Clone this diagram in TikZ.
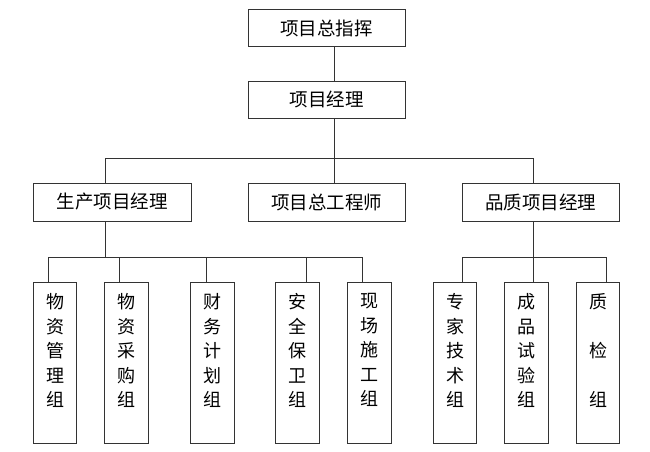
\documentclass[tikz,border=0pt]{standalone}
\usepackage{fontspec}
\newfontfamily\cjk{Noto Sans CJK SC}
\begin{document}
\begin{tikzpicture}[x=1pt,y=-1pt,
  box/.style={draw=black!80,line width=1pt,inner sep=0pt,font=\cjk\fontsize{18.5}{20}\selectfont},
  hbox/.style={box,minimum width=157pt,minimum height=37pt},
  vbox/.style={box,minimum width=43.5pt,minimum height=161pt},
  vtext/.style={inner sep=0pt,anchor=north,align=center,font=\cjk\fontsize{18}{24.5}\selectfont},
  conn/.style={draw=black!80,line width=1pt}]
\path[use as bounding box,fill=white] (0,0) rectangle (650,451);
% top levels
\node[hbox] (top) at (326.5,28) {项目总指挥};
\node[hbox] (pm) at (326.5,99.5) {项目经理};
\node[hbox,minimum width=158pt,minimum height=38pt] (prod) at (112,202) {生产项目经理};
\node[hbox,minimum height=38pt] (eng) at (326.5,202) {项目总工程师};
\node[hbox,minimum height=38pt] (qual) at (540.5,202) {品质项目经理};
% bottom boxes
\node[vbox] (b1) at (55,362.5) {};
\node[vbox] (b2) at (126.5,362.5) {};
\node[vbox] (b3) at (212.5,362.5) {};
\node[vbox] (b4) at (297.5,362.5) {};
\node[vbox] (b5) at (369.5,362.5) {};
\node[vbox] (b6) at (455,362.5) {};
\node[vbox] (b7) at (526.5,362.5) {};
\node[vbox] (b8) at (598,362.5) {};
\node[vtext] (t1) at ([yshift=-12pt]b1.north) {物\\资\\管\\理\\组};
\node[vtext] (t2) at ([yshift=-12pt]b2.north) {物\\资\\采\\购\\组};
\node[vtext] (t3) at ([yshift=-12pt]b3.north) {财\\务\\计\\划\\组};
\node[vtext] (t4) at ([yshift=-12pt]b4.north) {安\\全\\保\\卫\\组};
\node[vtext] (t5) at ([yshift=-12pt]b5.north) {现\\场\\施\\工\\组};
\node[vtext] (t6) at ([yshift=-12pt]b6.north) {专\\家\\技\\术\\组};
\node[vtext] (t7) at ([yshift=-12pt]b7.north) {成\\品\\试\\验\\组};
\node[vtext] (t8) at ([yshift=-12pt]b8.north) {质\\ \\检\\ \\组};
% junction coordinates
\coordinate (bus1) at (0,158);
\coordinate (bus2) at (0,257);
\coordinate (pmx) at ([xshift=7.5pt]pm.south);
\coordinate (prx) at ([xshift=-7pt]prod.south);
\coordinate (qux) at ([xshift=-7.5pt]qual.south);
\coordinate (s1) at ([xshift=-7pt]b1.north);
\coordinate (s2) at ([xshift=-7.5pt]b2.north);
\coordinate (s3) at ([xshift=-6.5pt]b3.north);
\coordinate (s4) at ([xshift=8.5pt]b4.north);
\coordinate (s5) at ([xshift=-7.5pt]b5.north);
\coordinate (s6) at ([xshift=7pt]b6.north);
\coordinate (s7) at ([xshift=7pt]b7.north);
\coordinate (s8) at ([xshift=8pt]b8.north);
% connectors
\draw[conn] ([xshift=7.5pt]top.south) -- ([xshift=7.5pt]pm.north);
\draw[conn] (pmx) -- (pmx |- bus1);
\draw[conn] (prx |- prod.north) -- (prx |- bus1) -- (qux |- bus1) -- (qux |- qual.north);
\draw[conn] (pmx |- bus1) -- (pmx |- eng.north);
\draw[conn] (prx) -- (prx |- bus2);
\draw[conn] (s1) -- (s1 |- bus2) -- (s5 |- bus2) -- (s5);
\draw[conn] (s2 |- bus2) -- (s2);
\draw[conn] (s3 |- bus2) -- (s3);
\draw[conn] (s4 |- bus2) -- (s4);
\draw[conn] (qux) -- (qux |- bus2);
\draw[conn] (s6) -- (s6 |- bus2) -- (s8 |- bus2) -- (s8);
\draw[conn] (s7 |- bus2) -- (s7);
\end{tikzpicture}
\end{document}
